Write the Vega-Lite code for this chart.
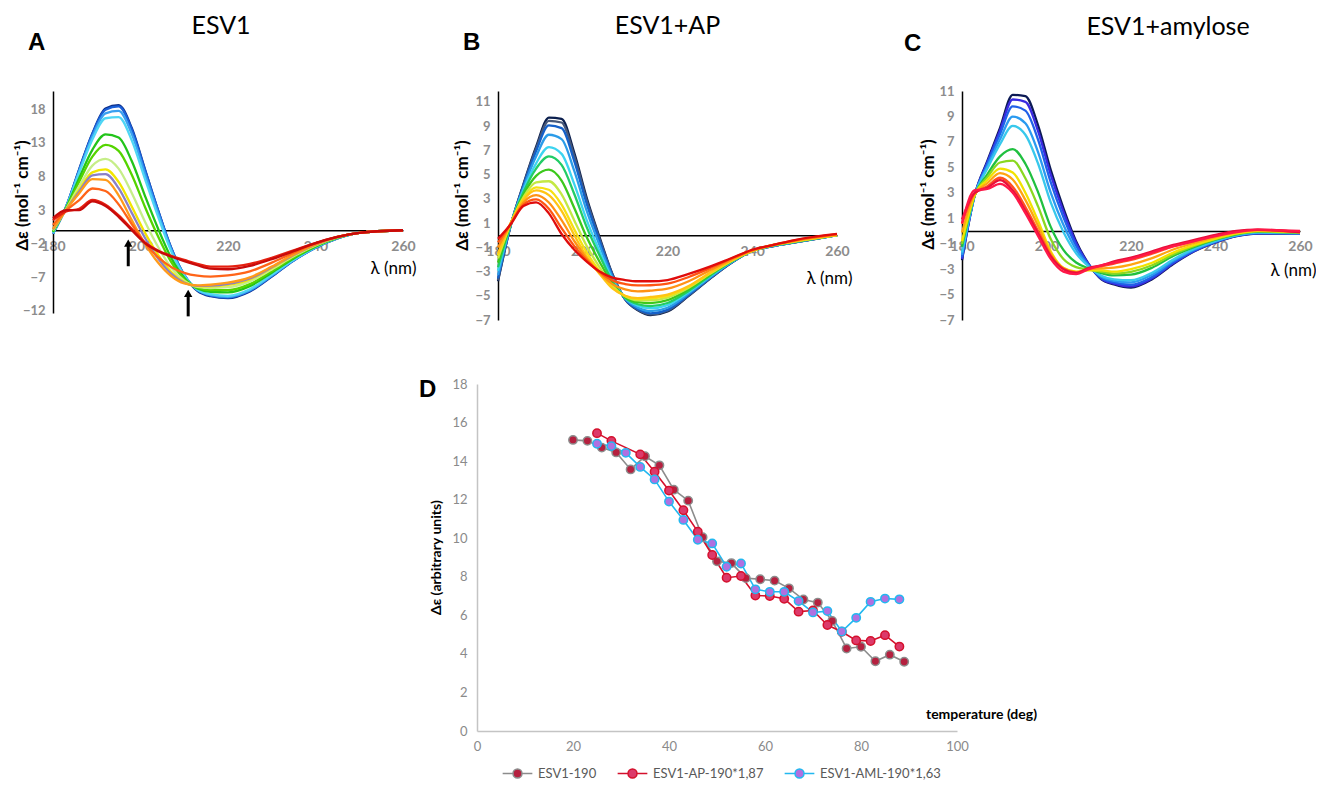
{
"$schema": "https://vega.github.io/schema/vega-lite/v6.json",
"padding": {"left": 13, "top": 14, "right": 0, "bottom": 0},
"background": "white",
"config": {"view": {"stroke": null}, "font": "Lato", "axis": {"grid": false, "ticks": false, "tickSize": 0, "labelFlush": false, "labelOverlap": false}},
"resolve": {"scale": {"color": "independent", "stroke": "independent", "fill": "independent"}},
"datasets": {
"A": [
{"k":"A1","x":180,"y":-0.5},{"k":"A1","x":183,"y":3.5},{"k":"A1","x":186,"y":9.1},{"k":"A1","x":189,"y":14.4},{"k":"A1","x":192,"y":18.1},{"k":"A1","x":195,"y":18.6},{"k":"A1","x":198,"y":15.2},{"k":"A1","x":201,"y":9.1},{"k":"A1","x":204,"y":3.0},{"k":"A1","x":207,"y":-2.6},{"k":"A1","x":210,"y":-6.7},{"k":"A1","x":213,"y":-9.0},{"k":"A1","x":216,"y":-9.8},{"k":"A1","x":220,"y":-10.1},{"k":"A1","x":225,"y":-9.1},{"k":"A1","x":230,"y":-6.9},{"k":"A1","x":235,"y":-4.5},{"k":"A1","x":240,"y":-2.6},{"k":"A1","x":245,"y":-1.2},{"k":"A1","x":250,"y":-0.4},{"k":"A1","x":260,"y":0},
{"k":"A2","x":180,"y":-0.5},{"k":"A2","x":183,"y":3.5},{"k":"A2","x":186,"y":9.0},{"k":"A2","x":189,"y":14.3},{"k":"A2","x":192,"y":17.9},{"k":"A2","x":195,"y":18.4},{"k":"A2","x":198,"y":15.0},{"k":"A2","x":201,"y":9.0},{"k":"A2","x":204,"y":3.0},{"k":"A2","x":207,"y":-2.6},{"k":"A2","x":210,"y":-6.6},{"k":"A2","x":213,"y":-8.9},{"k":"A2","x":216,"y":-9.7},{"k":"A2","x":220,"y":-10.0},{"k":"A2","x":225,"y":-9.0},{"k":"A2","x":230,"y":-6.8},{"k":"A2","x":235,"y":-4.5},{"k":"A2","x":240,"y":-2.6},{"k":"A2","x":245,"y":-1.2},{"k":"A2","x":250,"y":-0.4},{"k":"A2","x":260,"y":0},
{"k":"A3","x":180,"y":-0.47},{"k":"A3","x":183,"y":3.48},{"k":"A3","x":186,"y":8.83},{"k":"A3","x":189,"y":13.97},{"k":"A3","x":192,"y":17.38},{"k":"A3","x":195,"y":17.74},{"k":"A3","x":198,"y":14.33},{"k":"A3","x":201,"y":8.45},{"k":"A3","x":204,"y":2.61},{"k":"A3","x":207,"y":-2.81},{"k":"A3","x":210,"y":-6.67},{"k":"A3","x":213,"y":-8.87},{"k":"A3","x":216,"y":-9.62},{"k":"A3","x":220,"y":-9.89},{"k":"A3","x":225,"y":-8.9},{"k":"A3","x":230,"y":-6.73},{"k":"A3","x":235,"y":-4.46},{"k":"A3","x":240,"y":-2.58},{"k":"A3","x":245,"y":-1.19},{"k":"A3","x":250,"y":-0.4},{"k":"A3","x":260,"y":0},
{"k":"A4","x":180,"y":-0.42},{"k":"A4","x":183,"y":3.44},{"k":"A4","x":186,"y":8.58},{"k":"A4","x":189,"y":13.5},{"k":"A4","x":192,"y":16.65},{"k":"A4","x":195,"y":16.82},{"k":"A4","x":198,"y":13.38},{"k":"A4","x":201,"y":7.68},{"k":"A4","x":204,"y":2.06},{"k":"A4","x":207,"y":-3.1},{"k":"A4","x":210,"y":-6.76},{"k":"A4","x":213,"y":-8.82},{"k":"A4","x":216,"y":-9.51},{"k":"A4","x":220,"y":-9.74},{"k":"A4","x":225,"y":-8.76},{"k":"A4","x":230,"y":-6.63},{"k":"A4","x":235,"y":-4.39},{"k":"A4","x":240,"y":-2.54},{"k":"A4","x":245,"y":-1.18},{"k":"A4","x":250,"y":-0.4},{"k":"A4","x":260,"y":0},
{"k":"A5","x":180,"y":-0.26},{"k":"A5","x":183,"y":3.33},{"k":"A5","x":186,"y":7.78},{"k":"A5","x":189,"y":11.96},{"k":"A5","x":192,"y":14.26},{"k":"A5","x":195,"y":13.78},{"k":"A5","x":198,"y":10.28},{"k":"A5","x":201,"y":5.15},{"k":"A5","x":204,"y":0.27},{"k":"A5","x":207,"y":-4.07},{"k":"A5","x":210,"y":-7.06},{"k":"A5","x":213,"y":-8.66},{"k":"A5","x":216,"y":-9.14},{"k":"A5","x":220,"y":-9.23},{"k":"A5","x":225,"y":-8.3},{"k":"A5","x":230,"y":-6.31},{"k":"A5","x":235,"y":-4.19},{"k":"A5","x":240,"y":-2.43},{"k":"A5","x":245,"y":-1.13},{"k":"A5","x":250,"y":-0.4},{"k":"A5","x":260,"y":0},
{"k":"A6","x":180,"y":-0.15},{"k":"A6","x":183,"y":3.25},{"k":"A6","x":186,"y":7.25},{"k":"A6","x":189,"y":10.95},{"k":"A6","x":192,"y":12.7},{"k":"A6","x":195,"y":11.8},{"k":"A6","x":198,"y":8.25},{"k":"A6","x":201,"y":3.5},{"k":"A6","x":204,"y":-0.9},{"k":"A6","x":207,"y":-4.7},{"k":"A6","x":210,"y":-7.25},{"k":"A6","x":213,"y":-8.55},{"k":"A6","x":216,"y":-8.9},{"k":"A6","x":220,"y":-8.9},{"k":"A6","x":225,"y":-8.0},{"k":"A6","x":230,"y":-6.1},{"k":"A6","x":235,"y":-4.05},{"k":"A6","x":240,"y":-2.35},{"k":"A6","x":245,"y":-1.1},{"k":"A6","x":250,"y":-0.4},{"k":"A6","x":260,"y":0},
{"k":"A7","x":180,"y":-0.01},{"k":"A7","x":183,"y":3.15},{"k":"A7","x":186,"y":6.55},{"k":"A7","x":189,"y":9.61},{"k":"A7","x":192,"y":10.62},{"k":"A7","x":195,"y":9.16},{"k":"A7","x":198,"y":5.55},{"k":"A7","x":201,"y":1.3},{"k":"A7","x":204,"y":-2.46},{"k":"A7","x":207,"y":-5.54},{"k":"A7","x":210,"y":-7.51},{"k":"A7","x":213,"y":-8.41},{"k":"A7","x":216,"y":-8.58},{"k":"A7","x":220,"y":-8.46},{"k":"A7","x":225,"y":-7.6},{"k":"A7","x":230,"y":-5.82},{"k":"A7","x":235,"y":-3.87},{"k":"A7","x":240,"y":-2.25},{"k":"A7","x":245,"y":-1.06},{"k":"A7","x":250,"y":-0.4},{"k":"A7","x":260,"y":0},
{"k":"A8","x":180,"y":0.1},{"k":"A8","x":183,"y":3.08},{"k":"A8","x":186,"y":6.03},{"k":"A8","x":189,"y":8.6},{"k":"A8","x":192,"y":9.06},{"k":"A8","x":195,"y":7.18},{"k":"A8","x":198,"y":3.53},{"k":"A8","x":201,"y":-0.35},{"k":"A8","x":204,"y":-3.63},{"k":"A8","x":207,"y":-6.17},{"k":"A8","x":210,"y":-7.71},{"k":"A8","x":213,"y":-8.31},{"k":"A8","x":216,"y":-8.34},{"k":"A8","x":220,"y":-8.13},{"k":"A8","x":225,"y":-7.3},{"k":"A8","x":230,"y":-5.61},{"k":"A8","x":235,"y":-3.74},{"k":"A8","x":240,"y":-2.18},{"k":"A8","x":245,"y":-1.03},{"k":"A8","x":250,"y":-0.4},{"k":"A8","x":260,"y":0},
{"k":"A9","x":180,"y":0.14},{"k":"A9","x":183,"y":3.04},{"k":"A9","x":186,"y":5.78},{"k":"A9","x":189,"y":8.14},{"k":"A9","x":192,"y":8.33},{"k":"A9","x":195,"y":6.26},{"k":"A9","x":198,"y":2.58},{"k":"A9","x":201,"y":-1.12},{"k":"A9","x":204,"y":-4.18},{"k":"A9","x":207,"y":-6.46},{"k":"A9","x":210,"y":-7.8},{"k":"A9","x":213,"y":-8.26},{"k":"A9","x":216,"y":-8.23},{"k":"A9","x":220,"y":-7.98},{"k":"A9","x":225,"y":-7.16},{"k":"A9","x":230,"y":-5.51},{"k":"A9","x":235,"y":-3.67},{"k":"A9","x":240,"y":-2.14},{"k":"A9","x":245,"y":-1.02},{"k":"A9","x":250,"y":-0.4},{"k":"A9","x":260,"y":0},
{"k":"A10","x":180,"y":0.2},{"k":"A10","x":183,"y":3.0},{"k":"A10","x":186,"y":5.5},{"k":"A10","x":189,"y":7.6},{"k":"A10","x":192,"y":7.5},{"k":"A10","x":195,"y":5.2},{"k":"A10","x":198,"y":1.5},{"k":"A10","x":201,"y":-2.0},{"k":"A10","x":204,"y":-4.8},{"k":"A10","x":207,"y":-6.8},{"k":"A10","x":210,"y":-7.9},{"k":"A10","x":213,"y":-8.2},{"k":"A10","x":216,"y":-8.1},{"k":"A10","x":220,"y":-7.8},{"k":"A10","x":225,"y":-7.0},{"k":"A10","x":230,"y":-5.4},{"k":"A10","x":235,"y":-3.6},{"k":"A10","x":240,"y":-2.1},{"k":"A10","x":245,"y":-1.0},{"k":"A10","x":250,"y":-0.4},{"k":"A10","x":260,"y":0},
{"k":"A11","x":180,"y":0.79},{"k":"A11","x":183,"y":2.91},{"k":"A11","x":186,"y":4.47},{"k":"A11","x":189,"y":6.21},{"k":"A11","x":192,"y":5.84},{"k":"A11","x":195,"y":3.85},{"k":"A11","x":198,"y":0.92},{"k":"A11","x":201,"y":-1.91},{"k":"A11","x":204,"y":-3.99},{"k":"A11","x":207,"y":-5.45},{"k":"A11","x":210,"y":-6.33},{"k":"A11","x":213,"y":-6.76},{"k":"A11","x":216,"y":-6.89},{"k":"A11","x":220,"y":-6.72},{"k":"A11","x":225,"y":-6.1},{"k":"A11","x":230,"y":-4.82},{"k":"A11","x":235,"y":-3.33},{"k":"A11","x":240,"y":-2.01},{"k":"A11","x":245,"y":-1.0},{"k":"A11","x":250,"y":-0.4},{"k":"A11","x":260,"y":0},
{"k":"A12","x":180,"y":1.5},{"k":"A12","x":183,"y":2.8},{"k":"A12","x":186,"y":3.2},{"k":"A12","x":189,"y":4.5},{"k":"A12","x":192,"y":3.8},{"k":"A12","x":195,"y":2.2},{"k":"A12","x":198,"y":0.2},{"k":"A12","x":201,"y":-1.8},{"k":"A12","x":204,"y":-3.0},{"k":"A12","x":207,"y":-3.8},{"k":"A12","x":210,"y":-4.4},{"k":"A12","x":213,"y":-5.0},{"k":"A12","x":216,"y":-5.4},{"k":"A12","x":220,"y":-5.4},{"k":"A12","x":225,"y":-5.0},{"k":"A12","x":230,"y":-4.1},{"k":"A12","x":235,"y":-3.0},{"k":"A12","x":240,"y":-1.9},{"k":"A12","x":245,"y":-1.0},{"k":"A12","x":250,"y":-0.4},{"k":"A12","x":260,"y":0},
{"k":"A13","x":180,"y":1.8},{"k":"A13","x":183,"y":3.0},{"k":"A13","x":186,"y":3.0},{"k":"A13","x":189,"y":4.3},{"k":"A13","x":192,"y":3.6},{"k":"A13","x":195,"y":2.0},{"k":"A13","x":198,"y":0.0},{"k":"A13","x":201,"y":-1.9},{"k":"A13","x":204,"y":-3.1},{"k":"A13","x":207,"y":-3.9},{"k":"A13","x":210,"y":-4.6},{"k":"A13","x":213,"y":-5.2},{"k":"A13","x":216,"y":-5.7},{"k":"A13","x":220,"y":-5.8},{"k":"A13","x":225,"y":-5.3},{"k":"A13","x":230,"y":-4.3},{"k":"A13","x":235,"y":-3.1},{"k":"A13","x":240,"y":-1.9},{"k":"A13","x":245,"y":-1.0},{"k":"A13","x":250,"y":-0.4},{"k":"A13","x":260,"y":0}
],
"B": [
{"k":"B1","x":180,"y":-3.8},{"k":"B1","x":183,"y":0.8},{"k":"B1","x":186,"y":4.2},{"k":"B1","x":189,"y":7.3},{"k":"B1","x":192,"y":9.7},{"k":"B1","x":195,"y":9.6},{"k":"B1","x":198,"y":6.8},{"k":"B1","x":201,"y":3.0},{"k":"B1","x":204,"y":-0.2},{"k":"B1","x":207,"y":-3.2},{"k":"B1","x":210,"y":-5.3},{"k":"B1","x":213,"y":-6.2},{"k":"B1","x":216,"y":-6.6},{"k":"B1","x":220,"y":-6.3},{"k":"B1","x":225,"y":-5.0},{"k":"B1","x":230,"y":-3.6},{"k":"B1","x":235,"y":-2.3},{"k":"B1","x":240,"y":-1.3},{"k":"B1","x":245,"y":-0.9},{"k":"B1","x":250,"y":-0.6},{"k":"B1","x":260,"y":0},
{"k":"B2","x":180,"y":-3.71},{"k":"B2","x":183,"y":0.81},{"k":"B2","x":186,"y":4.15},{"k":"B2","x":189,"y":7.16},{"k":"B2","x":192,"y":9.44},{"k":"B2","x":195,"y":9.3},{"k":"B2","x":198,"y":6.53},{"k":"B2","x":201,"y":2.81},{"k":"B2","x":204,"y":-0.32},{"k":"B2","x":207,"y":-3.25},{"k":"B2","x":210,"y":-5.29},{"k":"B2","x":213,"y":-6.16},{"k":"B2","x":216,"y":-6.54},{"k":"B2","x":220,"y":-6.24},{"k":"B2","x":225,"y":-4.97},{"k":"B2","x":230,"y":-3.58},{"k":"B2","x":235,"y":-2.29},{"k":"B2","x":240,"y":-1.3},{"k":"B2","x":245,"y":-0.9},{"k":"B2","x":250,"y":-0.6},{"k":"B2","x":260,"y":0},
{"k":"B3","x":180,"y":-3.57},{"k":"B3","x":183,"y":0.82},{"k":"B3","x":186,"y":4.07},{"k":"B3","x":189,"y":6.94},{"k":"B3","x":192,"y":9.06},{"k":"B3","x":195,"y":8.84},{"k":"B3","x":198,"y":6.12},{"k":"B3","x":201,"y":2.52},{"k":"B3","x":204,"y":-0.5},{"k":"B3","x":207,"y":-3.32},{"k":"B3","x":210,"y":-5.27},{"k":"B3","x":213,"y":-6.1},{"k":"B3","x":216,"y":-6.45},{"k":"B3","x":220,"y":-6.16},{"k":"B3","x":225,"y":-4.92},{"k":"B3","x":230,"y":-3.55},{"k":"B3","x":235,"y":-2.28},{"k":"B3","x":240,"y":-1.3},{"k":"B3","x":245,"y":-0.89},{"k":"B3","x":250,"y":-0.59},{"k":"B3","x":260,"y":0},
{"k":"B4","x":180,"y":-3.29},{"k":"B4","x":183,"y":0.84},{"k":"B4","x":186,"y":3.91},{"k":"B4","x":189,"y":6.51},{"k":"B4","x":192,"y":8.29},{"k":"B4","x":195,"y":7.93},{"k":"B4","x":198,"y":5.3},{"k":"B4","x":201,"y":1.94},{"k":"B4","x":204,"y":-0.86},{"k":"B4","x":207,"y":-3.46},{"k":"B4","x":210,"y":-5.23},{"k":"B4","x":213,"y":-5.98},{"k":"B4","x":216,"y":-6.27},{"k":"B4","x":220,"y":-5.99},{"k":"B4","x":225,"y":-4.82},{"k":"B4","x":230,"y":-3.49},{"k":"B4","x":235,"y":-2.26},{"k":"B4","x":240,"y":-1.3},{"k":"B4","x":245,"y":-0.88},{"k":"B4","x":250,"y":-0.58},{"k":"B4","x":260,"y":0},
{"k":"B5","x":180,"y":-2.93},{"k":"B5","x":183,"y":0.88},{"k":"B5","x":186,"y":3.71},{"k":"B5","x":189,"y":5.93},{"k":"B5","x":192,"y":7.27},{"k":"B5","x":195,"y":6.71},{"k":"B5","x":198,"y":4.22},{"k":"B5","x":201,"y":1.18},{"k":"B5","x":204,"y":-1.34},{"k":"B5","x":207,"y":-3.66},{"k":"B5","x":210,"y":-5.19},{"k":"B5","x":213,"y":-5.82},{"k":"B5","x":216,"y":-6.03},{"k":"B5","x":220,"y":-5.77},{"k":"B5","x":225,"y":-4.7},{"k":"B5","x":230,"y":-3.41},{"k":"B5","x":235,"y":-2.22},{"k":"B5","x":240,"y":-1.3},{"k":"B5","x":245,"y":-0.86},{"k":"B5","x":250,"y":-0.56},{"k":"B5","x":260,"y":0},
{"k":"B6","x":180,"y":-2.65},{"k":"B6","x":183,"y":0.9},{"k":"B6","x":186,"y":3.55},{"k":"B6","x":189,"y":5.5},{"k":"B6","x":192,"y":6.5},{"k":"B6","x":195,"y":5.8},{"k":"B6","x":198,"y":3.4},{"k":"B6","x":201,"y":0.6},{"k":"B6","x":204,"y":-1.7},{"k":"B6","x":207,"y":-3.8},{"k":"B6","x":210,"y":-5.15},{"k":"B6","x":213,"y":-5.7},{"k":"B6","x":216,"y":-5.85},{"k":"B6","x":220,"y":-5.6},{"k":"B6","x":225,"y":-4.6},{"k":"B6","x":230,"y":-3.35},{"k":"B6","x":235,"y":-2.2},{"k":"B6","x":240,"y":-1.3},{"k":"B6","x":245,"y":-0.85},{"k":"B6","x":250,"y":-0.55},{"k":"B6","x":260,"y":0},
{"k":"B7","x":180,"y":-2.26},{"k":"B7","x":183,"y":0.93},{"k":"B7","x":186,"y":3.33},{"k":"B7","x":189,"y":4.89},{"k":"B7","x":192,"y":5.41},{"k":"B7","x":195,"y":4.51},{"k":"B7","x":198,"y":2.24},{"k":"B7","x":201,"y":-0.22},{"k":"B7","x":204,"y":-2.21},{"k":"B7","x":207,"y":-4.0},{"k":"B7","x":210,"y":-5.1},{"k":"B7","x":213,"y":-5.53},{"k":"B7","x":216,"y":-5.6},{"k":"B7","x":220,"y":-5.36},{"k":"B7","x":225,"y":-4.46},{"k":"B7","x":230,"y":-3.27},{"k":"B7","x":235,"y":-2.17},{"k":"B7","x":240,"y":-1.3},{"k":"B7","x":245,"y":-0.83},{"k":"B7","x":250,"y":-0.53},{"k":"B7","x":260,"y":0},
{"k":"B8","x":180,"y":-1.91},{"k":"B8","x":183,"y":0.96},{"k":"B8","x":186,"y":3.13},{"k":"B8","x":189,"y":4.35},{"k":"B8","x":192,"y":4.45},{"k":"B8","x":195,"y":3.37},{"k":"B8","x":198,"y":1.22},{"k":"B8","x":201,"y":-0.94},{"k":"B8","x":204,"y":-2.66},{"k":"B8","x":207,"y":-4.18},{"k":"B8","x":210,"y":-5.05},{"k":"B8","x":213,"y":-5.38},{"k":"B8","x":216,"y":-5.37},{"k":"B8","x":220,"y":-5.15},{"k":"B8","x":225,"y":-4.34},{"k":"B8","x":230,"y":-3.19},{"k":"B8","x":235,"y":-2.14},{"k":"B8","x":240,"y":-1.3},{"k":"B8","x":245,"y":-0.82},{"k":"B8","x":250,"y":-0.52},{"k":"B8","x":260,"y":0},
{"k":"B9","x":180,"y":-1.66},{"k":"B9","x":183,"y":0.99},{"k":"B9","x":186,"y":2.99},{"k":"B9","x":189,"y":3.95},{"k":"B9","x":192,"y":3.75},{"k":"B9","x":195,"y":2.53},{"k":"B9","x":198,"y":0.48},{"k":"B9","x":201,"y":-1.46},{"k":"B9","x":204,"y":-2.99},{"k":"B9","x":207,"y":-4.32},{"k":"B9","x":210,"y":-5.02},{"k":"B9","x":213,"y":-5.27},{"k":"B9","x":216,"y":-5.21},{"k":"B9","x":220,"y":-5.0},{"k":"B9","x":225,"y":-4.26},{"k":"B9","x":230,"y":-3.14},{"k":"B9","x":235,"y":-2.11},{"k":"B9","x":240,"y":-1.3},{"k":"B9","x":245,"y":-0.81},{"k":"B9","x":250,"y":-0.51},{"k":"B9","x":260,"y":0},
{"k":"B10","x":180,"y":-1.5},{"k":"B10","x":183,"y":1.0},{"k":"B10","x":186,"y":2.9},{"k":"B10","x":189,"y":3.7},{"k":"B10","x":192,"y":3.3},{"k":"B10","x":195,"y":2.0},{"k":"B10","x":198,"y":0.0},{"k":"B10","x":201,"y":-1.8},{"k":"B10","x":204,"y":-3.2},{"k":"B10","x":207,"y":-4.4},{"k":"B10","x":210,"y":-5.0},{"k":"B10","x":213,"y":-5.2},{"k":"B10","x":216,"y":-5.1},{"k":"B10","x":220,"y":-4.9},{"k":"B10","x":225,"y":-4.2},{"k":"B10","x":230,"y":-3.1},{"k":"B10","x":235,"y":-2.1},{"k":"B10","x":240,"y":-1.3},{"k":"B10","x":245,"y":-0.8},{"k":"B10","x":250,"y":-0.5},{"k":"B10","x":260,"y":0},
{"k":"B11","x":180,"y":-1.02},{"k":"B11","x":183,"y":0.96},{"k":"B11","x":186,"y":2.7},{"k":"B11","x":189,"y":3.3},{"k":"B11","x":192,"y":2.7},{"k":"B11","x":195,"y":1.24},{"k":"B11","x":198,"y":-0.48},{"k":"B11","x":201,"y":-1.96},{"k":"B11","x":204,"y":-3.12},{"k":"B11","x":207,"y":-4.04},{"k":"B11","x":210,"y":-4.48},{"k":"B11","x":213,"y":-4.64},{"k":"B11","x":216,"y":-4.58},{"k":"B11","x":220,"y":-4.42},{"k":"B11","x":225,"y":-3.8},{"k":"B11","x":230,"y":-2.9},{"k":"B11","x":235,"y":-2.02},{"k":"B11","x":240,"y":-1.26},{"k":"B11","x":245,"y":-0.8},{"k":"B11","x":250,"y":-0.46},{"k":"B11","x":260,"y":0.04},
{"k":"B12","x":180,"y":-0.6},{"k":"B12","x":183,"y":0.93},{"k":"B12","x":186,"y":2.53},{"k":"B12","x":189,"y":2.95},{"k":"B12","x":192,"y":2.18},{"k":"B12","x":195,"y":0.58},{"k":"B12","x":198,"y":-0.9},{"k":"B12","x":201,"y":-2.1},{"k":"B12","x":204,"y":-3.05},{"k":"B12","x":207,"y":-3.73},{"k":"B12","x":210,"y":-4.03},{"k":"B12","x":213,"y":-4.15},{"k":"B12","x":216,"y":-4.13},{"k":"B12","x":220,"y":-4.0},{"k":"B12","x":225,"y":-3.45},{"k":"B12","x":230,"y":-2.73},{"k":"B12","x":235,"y":-1.95},{"k":"B12","x":240,"y":-1.23},{"k":"B12","x":245,"y":-0.8},{"k":"B12","x":250,"y":-0.43},{"k":"B12","x":260,"y":0.08},
{"k":"B13","x":180,"y":-0.3},{"k":"B13","x":183,"y":0.9},{"k":"B13","x":186,"y":2.4},{"k":"B13","x":189,"y":2.7},{"k":"B13","x":192,"y":1.8},{"k":"B13","x":195,"y":0.1},{"k":"B13","x":198,"y":-1.2},{"k":"B13","x":201,"y":-2.2},{"k":"B13","x":204,"y":-3.0},{"k":"B13","x":207,"y":-3.5},{"k":"B13","x":210,"y":-3.7},{"k":"B13","x":213,"y":-3.8},{"k":"B13","x":216,"y":-3.8},{"k":"B13","x":220,"y":-3.7},{"k":"B13","x":225,"y":-3.2},{"k":"B13","x":230,"y":-2.6},{"k":"B13","x":235,"y":-1.9},{"k":"B13","x":240,"y":-1.2},{"k":"B13","x":245,"y":-0.8},{"k":"B13","x":250,"y":-0.4},{"k":"B13","x":260,"y":0.1}
],
"C": [
{"k":"C1","x":180,"y":-2.3},{"k":"C1","x":183,"y":2.8},{"k":"C1","x":186,"y":5.5},{"k":"C1","x":189,"y":8.1},{"k":"C1","x":192,"y":10.7},{"k":"C1","x":195,"y":10.6},{"k":"C1","x":198,"y":8.3},{"k":"C1","x":201,"y":4.8},{"k":"C1","x":204,"y":1.8},{"k":"C1","x":207,"y":-0.8},{"k":"C1","x":210,"y":-2.6},{"k":"C1","x":213,"y":-3.8},{"k":"C1","x":216,"y":-4.2},{"k":"C1","x":220,"y":-4.45},{"k":"C1","x":225,"y":-3.8},{"k":"C1","x":230,"y":-2.6},{"k":"C1","x":235,"y":-1.6},{"k":"C1","x":240,"y":-0.9},{"k":"C1","x":245,"y":-0.4},{"k":"C1","x":250,"y":-0.2},{"k":"C1","x":260,"y":-0.2},
{"k":"C2","x":180,"y":-2.21},{"k":"C2","x":183,"y":2.8},{"k":"C2","x":186,"y":5.41},{"k":"C2","x":189,"y":7.91},{"k":"C2","x":192,"y":10.33},{"k":"C2","x":195,"y":10.14},{"k":"C2","x":198,"y":7.85},{"k":"C2","x":201,"y":4.42},{"k":"C2","x":204,"y":1.52},{"k":"C2","x":207,"y":-0.94},{"k":"C2","x":210,"y":-2.63},{"k":"C2","x":213,"y":-3.76},{"k":"C2","x":216,"y":-4.14},{"k":"C2","x":220,"y":-4.36},{"k":"C2","x":225,"y":-3.72},{"k":"C2","x":230,"y":-2.55},{"k":"C2","x":235,"y":-1.57},{"k":"C2","x":240,"y":-0.88},{"k":"C2","x":245,"y":-0.39},{"k":"C2","x":250,"y":-0.19},{"k":"C2","x":260,"y":-0.2},
{"k":"C3","x":180,"y":-2.08},{"k":"C3","x":183,"y":2.8},{"k":"C3","x":186,"y":5.28},{"k":"C3","x":189,"y":7.62},{"k":"C3","x":192,"y":9.79},{"k":"C3","x":195,"y":9.46},{"k":"C3","x":198,"y":7.18},{"k":"C3","x":201,"y":3.84},{"k":"C3","x":204,"y":1.1},{"k":"C3","x":207,"y":-1.16},{"k":"C3","x":210,"y":-2.68},{"k":"C3","x":213,"y":-3.7},{"k":"C3","x":216,"y":-4.05},{"k":"C3","x":220,"y":-4.23},{"k":"C3","x":225,"y":-3.61},{"k":"C3","x":230,"y":-2.47},{"k":"C3","x":235,"y":-1.53},{"k":"C3","x":240,"y":-0.86},{"k":"C3","x":245,"y":-0.37},{"k":"C3","x":250,"y":-0.17},{"k":"C3","x":260,"y":-0.19},
{"k":"C4","x":180,"y":-1.88},{"k":"C4","x":183,"y":2.8},{"k":"C4","x":186,"y":5.08},{"k":"C4","x":189,"y":7.2},{"k":"C4","x":192,"y":8.99},{"k":"C4","x":195,"y":8.47},{"k":"C4","x":198,"y":6.2},{"k":"C4","x":201,"y":3.01},{"k":"C4","x":204,"y":0.48},{"k":"C4","x":207,"y":-1.47},{"k":"C4","x":210,"y":-2.74},{"k":"C4","x":213,"y":-3.6},{"k":"C4","x":216,"y":-3.92},{"k":"C4","x":220,"y":-4.04},{"k":"C4","x":225,"y":-3.44},{"k":"C4","x":230,"y":-2.35},{"k":"C4","x":235,"y":-1.46},{"k":"C4","x":240,"y":-0.82},{"k":"C4","x":245,"y":-0.34},{"k":"C4","x":250,"y":-0.14},{"k":"C4","x":260,"y":-0.17},
{"k":"C5","x":180,"y":-1.7},{"k":"C5","x":183,"y":2.8},{"k":"C5","x":186,"y":4.9},{"k":"C5","x":189,"y":6.82},{"k":"C5","x":192,"y":8.26},{"k":"C5","x":195,"y":7.56},{"k":"C5","x":198,"y":5.3},{"k":"C5","x":201,"y":2.24},{"k":"C5","x":204,"y":-0.08},{"k":"C5","x":207,"y":-1.76},{"k":"C5","x":210,"y":-2.8},{"k":"C5","x":213,"y":-3.52},{"k":"C5","x":216,"y":-3.8},{"k":"C5","x":220,"y":-3.87},{"k":"C5","x":225,"y":-3.28},{"k":"C5","x":230,"y":-2.24},{"k":"C5","x":235,"y":-1.4},{"k":"C5","x":240,"y":-0.78},{"k":"C5","x":245,"y":-0.32},{"k":"C5","x":250,"y":-0.12},{"k":"C5","x":260,"y":-0.16},
{"k":"C6","x":180,"y":-1.25},{"k":"C6","x":183,"y":2.8},{"k":"C6","x":186,"y":4.45},{"k":"C6","x":189,"y":5.86},{"k":"C6","x":192,"y":6.43},{"k":"C6","x":195,"y":5.28},{"k":"C6","x":198,"y":3.05},{"k":"C6","x":201,"y":0.32},{"k":"C6","x":204,"y":-1.49},{"k":"C6","x":207,"y":-2.48},{"k":"C6","x":210,"y":-2.95},{"k":"C6","x":213,"y":-3.31},{"k":"C6","x":216,"y":-3.5},{"k":"C6","x":220,"y":-3.44},{"k":"C6","x":225,"y":-2.89},{"k":"C6","x":230,"y":-1.97},{"k":"C6","x":235,"y":-1.25},{"k":"C6","x":240,"y":-0.69},{"k":"C6","x":245,"y":-0.26},{"k":"C6","x":250,"y":-0.06},{"k":"C6","x":260,"y":-0.13},
{"k":"C7","x":180,"y":-1.03},{"k":"C7","x":183,"y":2.8},{"k":"C7","x":186,"y":4.23},{"k":"C7","x":189,"y":5.38},{"k":"C7","x":192,"y":5.52},{"k":"C7","x":195,"y":4.14},{"k":"C7","x":198,"y":1.93},{"k":"C7","x":201,"y":-0.64},{"k":"C7","x":204,"y":-2.2},{"k":"C7","x":207,"y":-2.84},{"k":"C7","x":210,"y":-3.03},{"k":"C7","x":213,"y":-3.21},{"k":"C7","x":216,"y":-3.35},{"k":"C7","x":220,"y":-3.22},{"k":"C7","x":225,"y":-2.7},{"k":"C7","x":230,"y":-1.84},{"k":"C7","x":235,"y":-1.18},{"k":"C7","x":240,"y":-0.65},{"k":"C7","x":245,"y":-0.23},{"k":"C7","x":250,"y":-0.03},{"k":"C7","x":260,"y":-0.12},
{"k":"C8","x":180,"y":-0.8},{"k":"C8","x":183,"y":2.8},{"k":"C8","x":186,"y":4.0},{"k":"C8","x":189,"y":4.9},{"k":"C8","x":192,"y":4.6},{"k":"C8","x":195,"y":3.0},{"k":"C8","x":198,"y":0.8},{"k":"C8","x":201,"y":-1.6},{"k":"C8","x":204,"y":-2.9},{"k":"C8","x":207,"y":-3.2},{"k":"C8","x":210,"y":-3.1},{"k":"C8","x":213,"y":-3.1},{"k":"C8","x":216,"y":-3.2},{"k":"C8","x":220,"y":-3.0},{"k":"C8","x":225,"y":-2.5},{"k":"C8","x":230,"y":-1.7},{"k":"C8","x":235,"y":-1.1},{"k":"C8","x":240,"y":-0.6},{"k":"C8","x":245,"y":-0.2},{"k":"C8","x":250,"y":0},{"k":"C8","x":260,"y":-0.1},
{"k":"C9","x":180,"y":-0.12},{"k":"C9","x":183,"y":2.88},{"k":"C9","x":186,"y":3.76},{"k":"C9","x":189,"y":4.54},{"k":"C9","x":192,"y":4.04},{"k":"C9","x":195,"y":2.44},{"k":"C9","x":198,"y":0.4},{"k":"C9","x":201,"y":-1.76},{"k":"C9","x":204,"y":-2.94},{"k":"C9","x":207,"y":-3.24},{"k":"C9","x":210,"y":-3.02},{"k":"C9","x":213,"y":-2.94},{"k":"C9","x":216,"y":-2.88},{"k":"C9","x":220,"y":-2.64},{"k":"C9","x":225,"y":-2.14},{"k":"C9","x":230,"y":-1.46},{"k":"C9","x":235,"y":-0.94},{"k":"C9","x":240,"y":-0.48},{"k":"C9","x":245,"y":-0.12},{"k":"C9","x":250,"y":0.04},{"k":"C9","x":260,"y":-0.1},
{"k":"C10","x":180,"y":0.56},{"k":"C10","x":183,"y":2.96},{"k":"C10","x":186,"y":3.52},{"k":"C10","x":189,"y":4.18},{"k":"C10","x":192,"y":3.48},{"k":"C10","x":195,"y":1.88},{"k":"C10","x":198,"y":0.0},{"k":"C10","x":201,"y":-1.92},{"k":"C10","x":204,"y":-2.98},{"k":"C10","x":207,"y":-3.28},{"k":"C10","x":210,"y":-2.94},{"k":"C10","x":213,"y":-2.78},{"k":"C10","x":216,"y":-2.56},{"k":"C10","x":220,"y":-2.28},{"k":"C10","x":225,"y":-1.78},{"k":"C10","x":230,"y":-1.22},{"k":"C10","x":235,"y":-0.78},{"k":"C10","x":240,"y":-0.36},{"k":"C10","x":245,"y":-0.04},{"k":"C10","x":250,"y":0.08},{"k":"C10","x":260,"y":-0.1},
{"k":"C11","x":180,"y":0.9},{"k":"C11","x":183,"y":3.0},{"k":"C11","x":186,"y":3.4},{"k":"C11","x":189,"y":4.0},{"k":"C11","x":192,"y":3.2},{"k":"C11","x":195,"y":1.6},{"k":"C11","x":198,"y":-0.2},{"k":"C11","x":201,"y":-2.0},{"k":"C11","x":204,"y":-3.0},{"k":"C11","x":207,"y":-3.3},{"k":"C11","x":210,"y":-2.9},{"k":"C11","x":213,"y":-2.7},{"k":"C11","x":216,"y":-2.4},{"k":"C11","x":220,"y":-2.1},{"k":"C11","x":225,"y":-1.6},{"k":"C11","x":230,"y":-1.1},{"k":"C11","x":235,"y":-0.7},{"k":"C11","x":240,"y":-0.3},{"k":"C11","x":245,"y":0.0},{"k":"C11","x":250,"y":0.1},{"k":"C11","x":260,"y":-0.1},
{"k":"C12","x":180,"y":0.6},{"k":"C12","x":183,"y":3.2},{"k":"C12","x":186,"y":3.3},{"k":"C12","x":189,"y":3.7},{"k":"C12","x":192,"y":3.0},{"k":"C12","x":195,"y":1.4},{"k":"C12","x":198,"y":-0.4},{"k":"C12","x":201,"y":-2.2},{"k":"C12","x":204,"y":-3.2},{"k":"C12","x":207,"y":-3.4},{"k":"C12","x":210,"y":-3.0},{"k":"C12","x":213,"y":-2.7},{"k":"C12","x":216,"y":-2.5},{"k":"C12","x":220,"y":-2.2},{"k":"C12","x":225,"y":-1.7},{"k":"C12","x":230,"y":-1.2},{"k":"C12","x":235,"y":-0.8},{"k":"C12","x":240,"y":-0.4},{"k":"C12","x":245,"y":-0.1},{"k":"C12","x":250,"y":0.1},{"k":"C12","x":260,"y":0.0}
],
"arrows": [
{"x":197.2,"y":-1.93,"lo":-5.35},
{"x":210.9,"y":-9.37,"lo":-12.8}
],
"temp": [
{"s":"ESV1-190","t":20,"v":15.1},{"s":"ESV1-190","t":23,"v":15.05},{"s":"ESV1-190","t":26,"v":14.7},{"s":"ESV1-190","t":29,"v":14.45},{"s":"ESV1-190","t":32,"v":13.57},{"s":"ESV1-190","t":35,"v":14.25},{"s":"ESV1-190","t":38,"v":13.78},{"s":"ESV1-190","t":41,"v":12.52},{"s":"ESV1-190","t":44,"v":11.95},{"s":"ESV1-190","t":47,"v":10.05},{"s":"ESV1-190","t":50,"v":8.8},{"s":"ESV1-190","t":53,"v":8.71},{"s":"ESV1-190","t":56,"v":7.93},{"s":"ESV1-190","t":59,"v":7.87},{"s":"ESV1-190","t":62,"v":7.8},{"s":"ESV1-190","t":65,"v":7.4},{"s":"ESV1-190","t":68,"v":6.82},{"s":"ESV1-190","t":71,"v":6.66},{"s":"ESV1-190","t":74,"v":5.71},{"s":"ESV1-190","t":77,"v":4.28},{"s":"ESV1-190","t":80,"v":4.37},{"s":"ESV1-190","t":83,"v":3.62},{"s":"ESV1-190","t":86,"v":3.96},{"s":"ESV1-190","t":89,"v":3.59},
{"s":"ESV1-AP-190*1,87","t":25,"v":15.45},{"s":"ESV1-AP-190*1,87","t":28,"v":15.05},{"s":"ESV1-AP-190*1,87","t":34,"v":14.35},{"s":"ESV1-AP-190*1,87","t":37,"v":13.45},{"s":"ESV1-AP-190*1,87","t":40,"v":12.47},{"s":"ESV1-AP-190*1,87","t":43,"v":11.45},{"s":"ESV1-AP-190*1,87","t":46,"v":10.34},{"s":"ESV1-AP-190*1,87","t":49,"v":9.13},{"s":"ESV1-AP-190*1,87","t":52,"v":7.95},{"s":"ESV1-AP-190*1,87","t":55,"v":8.04},{"s":"ESV1-AP-190*1,87","t":58,"v":7.03},{"s":"ESV1-AP-190*1,87","t":61,"v":7.0},{"s":"ESV1-AP-190*1,87","t":64,"v":6.86},{"s":"ESV1-AP-190*1,87","t":67,"v":6.19},{"s":"ESV1-AP-190*1,87","t":70,"v":6.25},{"s":"ESV1-AP-190*1,87","t":73,"v":5.5},{"s":"ESV1-AP-190*1,87","t":76,"v":5.15},{"s":"ESV1-AP-190*1,87","t":79,"v":4.7},{"s":"ESV1-AP-190*1,87","t":82,"v":4.67},{"s":"ESV1-AP-190*1,87","t":85,"v":4.97},{"s":"ESV1-AP-190*1,87","t":88,"v":4.38},
{"s":"ESV1-AML-190*1,63","t":25,"v":14.9},{"s":"ESV1-AML-190*1,63","t":28,"v":14.78},{"s":"ESV1-AML-190*1,63","t":31,"v":14.43},{"s":"ESV1-AML-190*1,63","t":34,"v":13.7},{"s":"ESV1-AML-190*1,63","t":37,"v":13.05},{"s":"ESV1-AML-190*1,63","t":40,"v":11.9},{"s":"ESV1-AML-190*1,63","t":43,"v":10.95},{"s":"ESV1-AML-190*1,63","t":46,"v":9.92},{"s":"ESV1-AML-190*1,63","t":49,"v":9.73},{"s":"ESV1-AML-190*1,63","t":52,"v":8.52},{"s":"ESV1-AML-190*1,63","t":55,"v":8.69},{"s":"ESV1-AML-190*1,63","t":58,"v":7.35},{"s":"ESV1-AML-190*1,63","t":61,"v":7.22},{"s":"ESV1-AML-190*1,63","t":64,"v":7.22},{"s":"ESV1-AML-190*1,63","t":67,"v":6.74},{"s":"ESV1-AML-190*1,63","t":70,"v":6.15},{"s":"ESV1-AML-190*1,63","t":73,"v":6.22},{"s":"ESV1-AML-190*1,63","t":76,"v":5.16},{"s":"ESV1-AML-190*1,63","t":79,"v":5.87},{"s":"ESV1-AML-190*1,63","t":82,"v":6.7},{"s":"ESV1-AML-190*1,63","t":85,"v":6.87},{"s":"ESV1-AML-190*1,63","t":88,"v":6.83}
]
},
"vconcat": [
{"resolve": {"scale": {"color": "independent"}},
 "hconcat": [
 {"resolve": {"scale": {"color": "independent"}},
  "hconcat": [
  {"title": {"text": "A", "anchor": "start", "font": "Liberation Sans", "fontSize": 24, "fontWeight": "bold", "color": "black", "baseline": "alphabetic", "offset": -60, "dx": 15},
   "vconcat": [{
   "width": 350, "height": 222,
   "title": {"text": "ESV1", "font": "Lato", "fontSize": 25, "fontWeight": "normal", "color": "black", "anchor": "middle", "baseline": "alphabetic", "offset": 32, "dx": -7},
   "encoding": {
     "x": {"field": "x", "type": "quantitative", "scale": {"domain": [180, 260], "nice": false, "zero": false},
       "axis": {"orient": "bottom", "offset": -82.7, "values": [180, 200, 220, 240, 260], "labelColor": "#8c8c8c", "labelFontSize": 14, "labelFontWeight": "bold", "labelPadding": 9, "domainColor": "black", "domainWidth": 1.5, "title": "λ (nm)", "titleFontSize": 17, "titleFontWeight": "normal", "titleColor": "black", "titleX": 340, "titleY": 38, "titleAlign": "center", "titleBaseline": "middle"}},
     "y": {"field": "y", "type": "quantitative", "scale": {"domain": [-12.3, 20.7], "nice": false, "zero": false},
       "axis": {"values": [-12, -7, -2, 3, 8, 13, 18], "labelColor": "#8c8c8c", "labelFontSize": 13, "labelFontWeight": "bold", "labelPadding": 8, "domainColor": "black", "domainWidth": 1.5, "title": "Δε (mol⁻¹ cm⁻¹)", "titleFontSize": 17, "titleFontWeight": "bold", "titleColor": "black", "titleX": -31, "titleY": 104, "titleAlign": "center", "titleBaseline": "middle"}}
   },
   "layer": [
     {"data": {"name": "A"}, "mark": {"type": "line", "interpolate": "monotone", "strokeWidth": 2.3},
      "encoding": {"color": {"field": "k", "type": "nominal", "legend": null, "scale": {"domain": ["A1","A2","A3","A4","A5","A6","A7","A8","A9","A10","A11","A12","A13"], "range": ["#0d2f8a","#1a5fd8","#3aa0f0","#4fd6f5","#22c41a","#55d400","#c6ee88","#f2e600","#8a7fc8","#ff9a1a","#ff6418","#e52010","#c80a0a"]}}}},
     {"data": {"name": "arrows"}, "mark": {"type": "rule", "strokeWidth": 3, "color": "black"}, "encoding": {"y2": {"field": "lo"}}},
     {"data": {"name": "arrows"}, "mark": {"type": "point", "shape": "triangle-up", "filled": true, "color": "black", "size": 70, "opacity": 1}}
   ]
  }]},
  {"title": {"text": "B", "anchor": "start", "font": "Liberation Sans", "fontSize": 24, "fontWeight": "bold", "color": "black", "baseline": "alphabetic", "offset": -60, "dx": 10},
   "vconcat": [{
   "width": 339, "height": 229,
   "title": {"text": "ESV1+AP", "font": "Lato", "fontSize": 25, "fontWeight": "normal", "color": "black", "anchor": "middle", "baseline": "alphabetic", "offset": 32, "dx": 0},
   "data": {"name": "B"},
   "mark": {"type": "line", "interpolate": "monotone", "strokeWidth": 2.3},
   "encoding": {
     "x": {"field": "x", "type": "quantitative", "scale": {"domain": [180, 260], "nice": false, "zero": false},
       "axis": {"orient": "bottom", "offset": -84.8, "values": [180, 200, 220, 240, 260], "labelColor": "#8c8c8c", "labelFontSize": 14, "labelFontWeight": "bold", "labelPadding": 9, "domainColor": "black", "domainWidth": 1.5, "title": "λ (nm)", "titleFontSize": 17, "titleFontWeight": "normal", "titleColor": "black", "titleX": 331, "titleY": 43, "titleAlign": "center", "titleBaseline": "middle"}},
     "y": {"field": "y", "type": "quantitative", "scale": {"domain": [-7, 11.9], "nice": false, "zero": false},
       "axis": {"values": [-7, -5, -3, -1, 1, 3, 5, 7, 9, 11], "labelColor": "#8c8c8c", "labelFontSize": 13, "labelFontWeight": "bold", "labelPadding": 8, "domainColor": "black", "domainWidth": 1.5, "title": "Δε (mol⁻¹ cm⁻¹)", "titleFontSize": 17, "titleFontWeight": "bold", "titleColor": "black", "titleX": -36, "titleY": 104, "titleAlign": "center", "titleBaseline": "middle"}},
     "color": {"field": "k", "type": "nominal", "legend": null, "scale": {"domain": ["B1","B2","B3","B4","B5","B6","B7","B8","B9","B10","B11","B12","B13"], "range": ["#0b1f4e","#485878","#1560c8","#2b9be8","#3cd4f0","#22cc66","#3cc81c","#c4e844","#f6e012","#ffc414","#ff9214","#ff5512","#e00c0c"]}}
   }
  }]}
 ], "spacing": 37},
 {"title": {"text": "C", "anchor": "start", "font": "Liberation Sans", "fontSize": 24, "fontWeight": "bold", "color": "black", "baseline": "alphabetic", "offset": -60, "dx": -15},
  "vconcat": [{
   "width": 338, "height": 229,
   "title": {"text": "ESV1+amylose", "font": "Lato", "fontSize": 25, "fontWeight": "normal", "color": "black", "anchor": "middle", "baseline": "alphabetic", "offset": 25, "dx": 37},
   "data": {"name": "C"},
   "mark": {"type": "line", "interpolate": "monotone", "strokeWidth": 2.3},
   "encoding": {
     "x": {"field": "x", "type": "quantitative", "scale": {"domain": [180, 260], "nice": false, "zero": false},
       "axis": {"orient": "bottom", "offset": -89.1, "values": [180, 200, 220, 240, 260], "labelColor": "#8c8c8c", "labelFontSize": 14, "labelFontWeight": "bold", "labelPadding": 9, "domainColor": "black", "domainWidth": 1.5, "title": "λ (nm)", "titleFontSize": 17, "titleFontWeight": "normal", "titleColor": "black", "titleX": 331, "titleY": 40, "titleAlign": "center", "titleBaseline": "middle"}},
     "y": {"field": "y", "type": "quantitative", "scale": {"domain": [-7, 11], "nice": false, "zero": false},
       "axis": {"values": [-7, -5, -3, -1, 1, 3, 5, 7, 9, 11], "labelColor": "#8c8c8c", "labelFontSize": 13, "labelFontWeight": "bold", "labelPadding": 8, "domainColor": "black", "domainWidth": 1.5, "title": "Δε (mol⁻¹ cm⁻¹)", "titleFontSize": 17, "titleFontWeight": "bold", "titleColor": "black", "titleX": -34, "titleY": 103, "titleAlign": "center", "titleBaseline": "middle"}},
     "color": {"field": "k", "type": "nominal", "legend": null, "scale": {"domain": ["C1","C2","C3","C4","C5","C6","C7","C8","C9","C10","C11","C12"], "range": ["#0c1a55","#3a2ae0","#2060e8","#2a9af0","#38c8ec","#20c040","#8ad820","#f2e200","#ffa512","#ff5020","#e8103a","#ff1848"]}}
   }
  }]}
], "spacing": 52},
{"resolve": {"scale": {"stroke": "independent", "fill": "independent"}},
 "hconcat": [
 {"width": 366, "height": 10, "data": {"values": []}, "mark": "point"},
 {
  "width": 480, "height": 347,
  "title": {"text": "D", "anchor": "start", "font": "Liberation Sans", "fontSize": 24, "fontWeight": "bold", "color": "black", "baseline": "alphabetic", "offset": -43, "dx": -10},
  "data": {"name": "temp"},
  "encoding": {
    "x": {"field": "t", "type": "quantitative", "scale": {"domain": [0, 100], "nice": false},
      "axis": {"values": [0, 20, 40, 60, 80, 100], "labelColor": "#8a8a8a", "labelFontSize": 13, "labelPadding": 9, "domainColor": "#c4c4c4", "domainWidth": 1.5, "title": "temperature (deg)", "titleFontSize": 14, "titleFontWeight": "bold", "titleColor": "black", "titleX": 504, "titleY": -17, "titleAlign": "center", "titleBaseline": "middle"}},
    "y": {"field": "v", "type": "quantitative", "scale": {"domain": [0, 18], "nice": false},
      "axis": {"values": [0, 2, 4, 6, 8, 10, 12, 14, 16, 18], "labelColor": "#8a8a8a", "labelFontSize": 13, "labelPadding": 10, "domainColor": "#c4c4c4", "domainWidth": 1.5, "title": "Δε (arbitrary units)", "titleFontSize": 14, "titleFontWeight": "bold", "titleColor": "black", "titleX": -41, "titleY": 173, "titleAlign": "center", "titleBaseline": "middle"}}
  },
  "layer": [
    {"mark": {"type": "line", "strokeWidth": 1.6},
     "encoding": {"stroke": {"field": "s", "type": "nominal", "scale": {"domain": ["ESV1-190", "ESV1-AP-190*1,87", "ESV1-AML-190*1,63"], "range": ["#8c8c8c", "#d4102c", "#22b8f0"]},
       "legend": {"orient": "none", "legendX": 34, "legendY": 383, "direction": "horizontal", "gridAlign": "none", "title": null, "symbolType": "M-3.3,0H-1M1,0H3.3M-1,0A1,1,0,1,1,1,0A1,1,0,1,1,-1,0Z", "symbolSize": 81, "symbolStrokeWidth": 1.5, "labelFontSize": 13, "labelColor": "#595959", "labelOffset": 14, "columnPadding": 17, "padding": 0}}}},
    {"mark": {"type": "circle", "size": 70, "strokeWidth": 1.5, "opacity": 1},
     "encoding": {
       "stroke": {"field": "s", "type": "nominal", "scale": {"domain": ["ESV1-190", "ESV1-AP-190*1,87", "ESV1-AML-190*1,63"], "range": ["#8c8c8c", "#d4102c", "#22b8f0"]},
         "legend": {"orient": "none", "legendX": 34, "legendY": 383, "direction": "horizontal", "gridAlign": "none", "title": null, "symbolType": "M-3.3,0H-1M1,0H3.3M-1,0A1,1,0,1,1,1,0A1,1,0,1,1,-1,0Z", "symbolSize": 81, "symbolStrokeWidth": 1.5, "labelFontSize": 13, "labelColor": "#595959", "labelOffset": 14, "columnPadding": 17, "padding": 0}},
       "fill": {"field": "s", "type": "nominal", "scale": {"domain": ["ESV1-190", "ESV1-AP-190*1,87", "ESV1-AML-190*1,63"], "range": ["#b5203f", "#dc3a6a", "#b070e0"]},
         "legend": {"orient": "none", "legendX": 34, "legendY": 383, "direction": "horizontal", "gridAlign": "none", "title": null, "symbolType": "M-3.3,0H-1M1,0H3.3M-1,0A1,1,0,1,1,1,0A1,1,0,1,1,-1,0Z", "symbolSize": 81, "symbolStrokeWidth": 1.5, "labelFontSize": 13, "labelColor": "#595959", "labelOffset": 14, "columnPadding": 17, "padding": 0}}
     }}
  ]
 }
], "spacing": 0}
],
"spacing": 51
}
